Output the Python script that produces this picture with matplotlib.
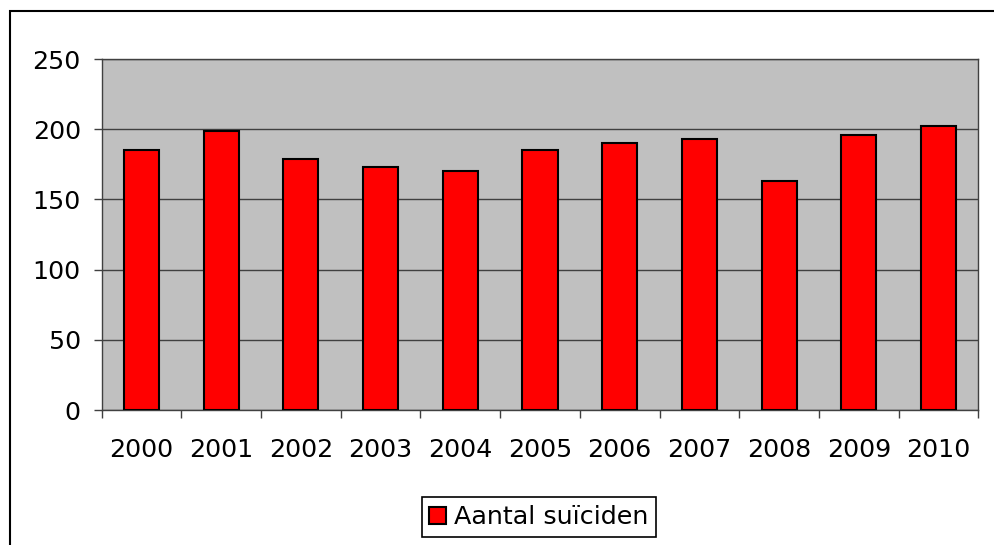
import numpy as np
import matplotlib.pyplot as plt
from matplotlib.patches import Rectangle

# data
years = ['2000', '2001', '2002', '2003', '2004', '2005', '2006', '2007', '2008', '2009', '2010']
suicides = [185, 199, 179, 173, 170, 185, 190, 193, 163, 196, 202]
series_label = 'Aantal suïciden'

fig = plt.figure(figsize=(9.94, 5.45), dpi=100, facecolor='w')
ax = fig.add_axes([0.1023, 0.2477, 0.8819, 0.644])

x = np.arange(len(years))
ax.bar(x, suicides, width=0.44, color='#ff0000', edgecolor='black', linewidth=1.5,
       label=series_label, zorder=3)

ax.set_facecolor('#c0c0c0')
ax.set_xlim(-0.5, len(years) - 0.5)
ax.set_ylim(0, 250)
ax.set_yticks([0, 50, 100, 150, 200, 250])
ax.yaxis.grid(True, color='#404040', linewidth=1.0, zorder=1)

ax.set_xticks(x)
ax.set_xticklabels(years)
ax.set_xticks(np.arange(-0.5, len(years)), minor=True)
ax.tick_params(axis='x', which='major', length=0, pad=20, labelsize=18.3)
ax.tick_params(axis='x', which='minor', length=6, width=1, color='#404040', direction='out')
ax.tick_params(axis='y', length=6, width=1, color='#404040', pad=9, labelsize=18.3)

for s in ax.spines.values():
    s.set_color('#404040')
    s.set_linewidth(1.0)

# outer chart frame
fig.patches.append(Rectangle((10 / 994, -0.1), 1.2, 1 - 11 / 545 + 0.1, transform=fig.transFigure,
                             fill=False, edgecolor='black', linewidth=1.5))

leg = fig.legend(loc='center', bbox_to_anchor=(0.542, 0.0514), fontsize=18.3, fancybox=False,
                 edgecolor='black', framealpha=1, handlelength=0.65, handleheight=0.65,
                 handletextpad=0.3, borderpad=0.3, borderaxespad=0)
leg.get_frame().set_linewidth(1.2)

plt.savefig('out.png', dpi=100)
